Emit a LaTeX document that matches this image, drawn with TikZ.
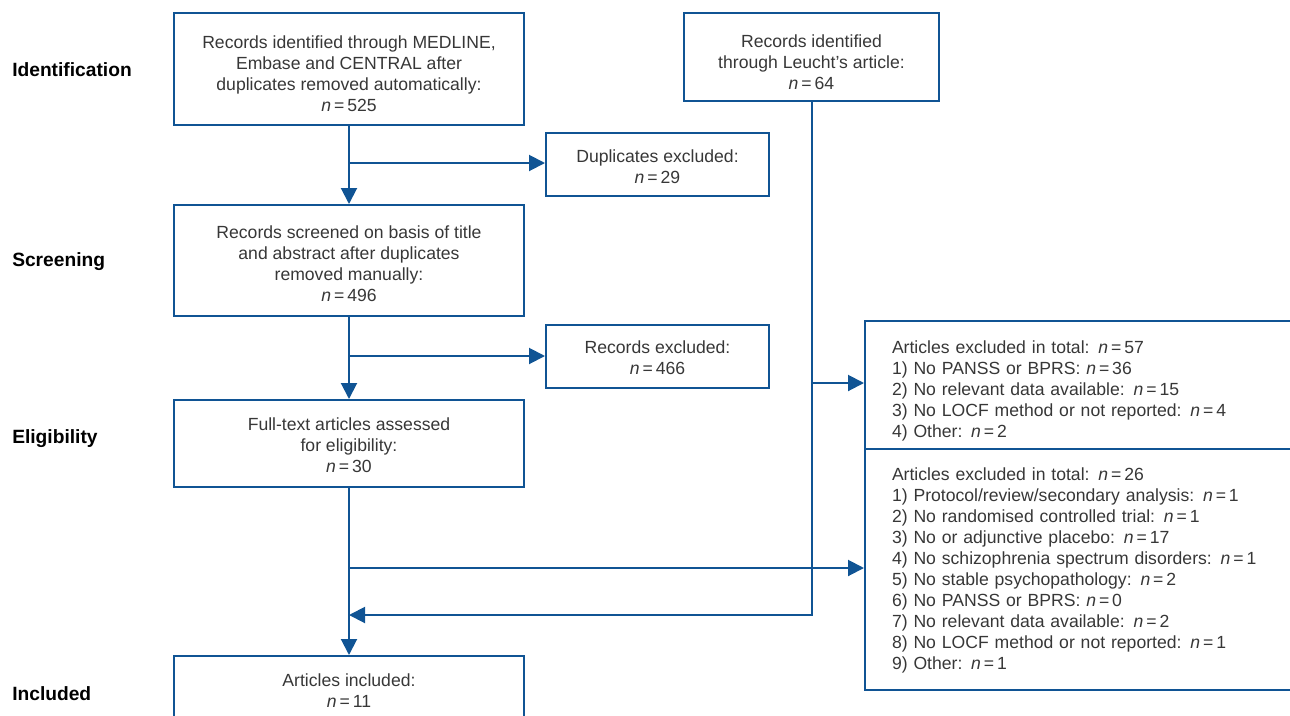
\documentclass[tikz,border=0pt]{standalone}
\usepackage{fontspec}
\setmainfont{Liberation Sans}
\usetikzlibrary{arrows.meta}
\definecolor{lineblue}{RGB}{16,84,148}
\definecolor{txt}{RGB}{55,55,55}
\newcommand\lowerby[1]{\rule{0pt}{#1}}
\begin{document}
\begin{tikzpicture}[x=0.75pt,y=-0.75pt,
  box/.style={draw=lineblue,line width=1.5pt,text=txt,align=center,inner sep=0pt,
    font=\fontsize{13.2}{15.8}\selectfont},
  lbox/.style={box,align=left,inner xsep=27*0.75pt,text width=400*0.75pt,minimum width=454*0.75pt},
  conn/.style={draw=lineblue,line width=1.5pt,-{Triangle[length=12pt,width=12pt]}},
  stage/.style={anchor=west,inner sep=0pt,text=black,font=\bfseries\fontsize{14.4}{17}\selectfont}]
\useasboundingbox (0,0) rectangle (1290,715);
\clip (0,0) rectangle (1290,715);

% stage labels
\node[stage] (s1) at (12,70) {Identification};
\node[stage] (s2) at (12,262) {Screening};
\node[stage] (s3) at (12,439) {Eligibility};
\node[stage] (s4) at (12,694) {Included};

% boxes
\node[box,minimum width=350*0.75pt,minimum height=112*0.75pt] (A) at (349,69)
  {\lowerby{17.1pt}Records identified through MEDLINE,\\Embase and CENTRAL after\\duplicates removed automatically:\\\textit{n}\,=\,525};
\node[box,minimum width=255*0.75pt,minimum height=88*0.75pt] (B) at (811.5,57)
  {\lowerby{17.1pt}Records identified\\through Leucht’s article:\\\textit{n}\,=\,64};
\node[box,minimum width=223*0.75pt,minimum height=63*0.75pt] (C) at (657.5,164.5)
  {\lowerby{12.6pt}Duplicates excluded:\\\textit{n}\,=\,29};
\node[box,minimum width=350*0.75pt,minimum height=111*0.75pt] (D) at (349,260.5)
  {\lowerby{14.1pt}Records screened on basis of title\\and abstract after duplicates\\removed manually:\\\textit{n}\,=\,496};
\node[box,minimum width=223*0.75pt,minimum height=63*0.75pt] (E) at (657.5,356.5)
  {\lowerby{11.1pt}Records excluded:\\\textit{n}\,=\,466};
\node[box,minimum width=350*0.75pt,minimum height=87*0.75pt] (F) at (349,443.5)
  {\lowerby{12.6pt}Full-text articles assessed\\for eligibility:\\\textit{n}\,=\,30};
\node[box,minimum width=350*0.75pt,minimum height=68*0.75pt] (G) at (349,690)
  {\lowerby{11.1pt}Articles included:\\\textit{n}\,=\,11};
\node[lbox,minimum height=128*0.75pt] (H) at (1092,385)
  {\lowerby{18.6pt}Articles excluded in total: \textit{n}\,=\,57\\
   1) No PANSS or BPRS: \textit{n}\,=\,36\\
   2) No relevant data available: \textit{n}\,=\,15\\
   3) No LOCF method or not reported: \textit{n}\,=\,4\\
   4) Other: \textit{n}\,=\,2};
\node[lbox,minimum height=241*0.75pt] (I) at (1092,569.5)
  {\lowerby{11.1pt}Articles excluded in total: \textit{n}\,=\,26\\
   1) Protocol/review/secondary analysis: \textit{n}\,=\,1\\
   2) No randomised controlled trial: \textit{n}\,=\,1\\
   3) No or adjunctive placebo: \textit{n}\,=\,17\\
   4) No schizophrenia spectrum disorders: \textit{n}\,=\,1\\
   5) No stable psychopathology: \textit{n}\,=\,2\\
   6) No PANSS or BPRS: \textit{n}\,=\,0\\
   7) No relevant data available: \textit{n}\,=\,2\\
   8) No LOCF method or not reported: \textit{n}\,=\,1\\
   9) Other: \textit{n}\,=\,1};

% connectors
\coordinate (c1) at (349,163);
\coordinate (c2) at (349,356);
\coordinate (c3) at (349,568);
\coordinate (c4) at (349,615);
\coordinate (c5) at (813,383);
\draw[conn] (A.south) -- (D.north);
\draw[conn] (c1) -- (c1 -| C.west);
\draw[conn] (D.south) -- (F.north);
\draw[conn] (c2) -- (c2 -| E.west);
\draw[conn] (F.south) -- (G.north);
\draw[conn] (c3) -- (c3 -| I.west);
\draw[conn] (B.south) |- (c4);
\draw[conn] (c5) -- (c5 -| H.west);
\end{tikzpicture}
\end{document}
